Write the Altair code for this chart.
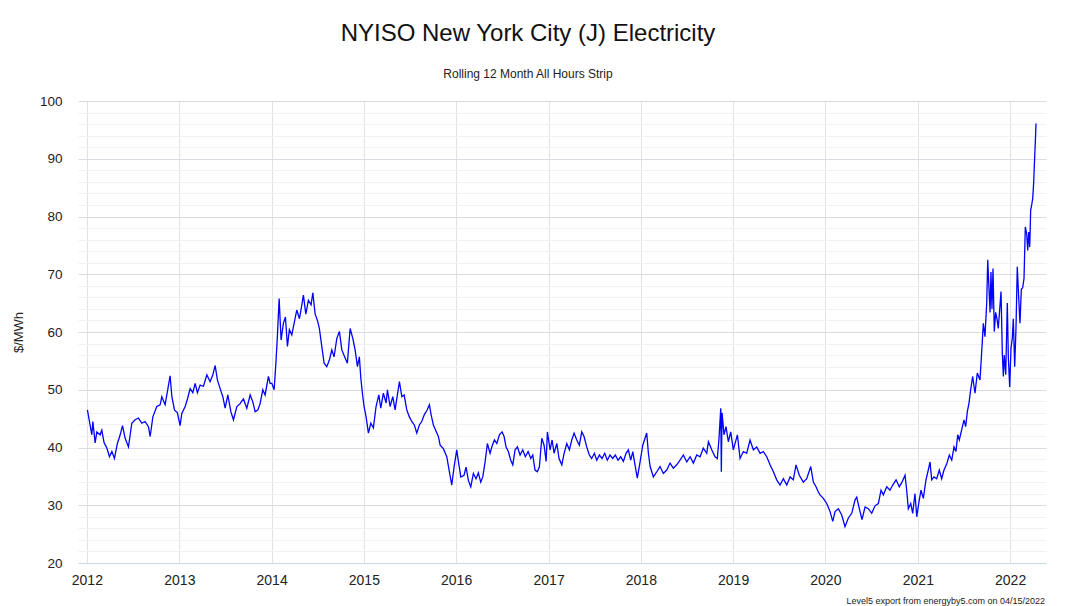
import altair as alt
import pandas as pd

title_text = "NYISO New York City (J) Electricity"
subtitle_text = "Rolling 12 Month All Hours Strip"
y_title = "$/MWh"
footer_text = "Level5 export from energyby5.com on 04/15/2022"
year_ticks = list(range(2012, 2023))
y_major = [20, 30, 40, 50, 60, 70, 80, 90, 100]

year_frac = [
    2012.006, 2012.054, 2012.065, 2012.090, 2012.108, 2012.144, 2012.162, 2012.187, 2012.217, 2012.245,
    2012.271, 2012.299, 2012.331, 2012.361, 2012.386, 2012.415, 2012.451, 2012.487, 2012.523, 2012.559,
    2012.596, 2012.631, 2012.667, 2012.686, 2012.715, 2012.758, 2012.794, 2012.812, 2012.848, 2012.873,
    2012.902, 2012.921, 2012.949, 2012.981,
    2013.010, 2013.029, 2013.065, 2013.090, 2013.119, 2013.148, 2013.173, 2013.198, 2013.227, 2013.263,
    2013.300, 2013.335, 2013.365, 2013.390, 2013.414, 2013.444, 2013.473, 2013.498, 2013.527, 2013.560,
    2013.588, 2013.625, 2013.660, 2013.696, 2013.733, 2013.769, 2013.798, 2013.823, 2013.852, 2013.877,
    2013.906, 2013.931, 2013.967, 2013.985,
    2014.004, 2014.029, 2014.050, 2014.064, 2014.083, 2014.104, 2014.129, 2014.151, 2014.173, 2014.194,
    2014.220, 2014.245, 2014.274, 2014.303, 2014.329, 2014.346, 2014.372, 2014.400, 2014.429, 2014.448,
    2014.473, 2014.498, 2014.519, 2014.545, 2014.570, 2014.599, 2014.628, 2014.654, 2014.678, 2014.708,
    2014.736, 2014.762, 2014.798, 2014.822, 2014.852, 2014.881, 2014.906, 2014.931, 2014.952, 2014.968,
    2014.985,
    2015.003, 2015.025, 2015.050, 2015.076, 2015.104, 2015.133, 2015.163, 2015.184, 2015.212, 2015.242,
    2015.256, 2015.285, 2015.314, 2015.339, 2015.364, 2015.386, 2015.412, 2015.437, 2015.466, 2015.494,
    2015.520, 2015.548, 2015.574, 2015.602, 2015.628, 2015.656, 2015.686, 2015.711, 2015.729, 2015.754,
    2015.783, 2015.808, 2015.827, 2015.862, 2015.899, 2015.927, 2015.953, 2015.978,
    2016.007, 2016.025, 2016.051, 2016.086, 2016.108, 2016.133, 2016.159, 2016.187, 2016.216, 2016.241,
    2016.267, 2016.289, 2016.314, 2016.339, 2016.368, 2016.393, 2016.415, 2016.441, 2016.469, 2016.498,
    2016.520, 2016.541, 2016.566, 2016.592, 2016.614, 2016.639, 2016.664, 2016.693, 2016.722, 2016.750,
    2016.780, 2016.809, 2016.830, 2016.855, 2016.880, 2016.902, 2016.928, 2016.953, 2016.975, 2016.989,
    2017.018, 2017.040, 2017.061, 2017.091, 2017.115, 2017.145, 2017.170, 2017.199, 2017.227, 2017.253,
    2017.278, 2017.307, 2017.335, 2017.361, 2017.386, 2017.415, 2017.443, 2017.469, 2017.498, 2017.524,
    2017.552, 2017.581, 2017.610, 2017.638, 2017.667, 2017.697, 2017.725, 2017.754, 2017.783, 2017.812,
    2017.841, 2017.866, 2017.892, 2017.914, 2017.938, 2017.963, 2017.993,
    2018.022, 2018.065, 2018.083, 2018.102, 2018.137, 2018.174, 2018.209, 2018.245, 2018.282, 2018.318,
    2018.353, 2018.390, 2018.426, 2018.462, 2018.499, 2018.535, 2018.570, 2018.607, 2018.643, 2018.678,
    2018.715, 2018.733, 2018.769, 2018.805, 2018.830, 2018.848, 2018.867, 2018.873, 2018.881, 2018.902,
    2018.924, 2018.949, 2018.975,
    2019.003, 2019.047, 2019.076, 2019.112, 2019.148, 2019.184, 2019.220, 2019.257, 2019.293, 2019.328,
    2019.365, 2019.401, 2019.437, 2019.473, 2019.509, 2019.545, 2019.582, 2019.618, 2019.653, 2019.682,
    2019.718, 2019.761, 2019.798, 2019.842, 2019.870, 2019.899, 2019.924, 2019.942, 2019.978,
    2020.015, 2020.051, 2020.080, 2020.105, 2020.141, 2020.177, 2020.213, 2020.249, 2020.286, 2020.321,
    2020.340, 2020.368, 2020.397, 2020.430, 2020.465, 2020.502, 2020.538, 2020.574, 2020.603, 2020.628,
    2020.665, 2020.700, 2020.730, 2020.766, 2020.801, 2020.830, 2020.863, 2020.881, 2020.899, 2020.925,
    2020.946, 2020.971, 2020.990,
    2021.011, 2021.036, 2021.061, 2021.090, 2021.115, 2021.134, 2021.152, 2021.177, 2021.206, 2021.234,
    2021.260, 2021.285, 2021.315, 2021.343, 2021.369, 2021.394, 2021.415, 2021.434, 2021.451, 2021.477,
    2021.502, 2021.520, 2021.538, 2021.556, 2021.574, 2021.596, 2021.621, 2021.646, 2021.675, 2021.697,
    2021.711, 2021.729, 2021.748, 2021.759, 2021.773, 2021.784, 2021.794, 2021.805, 2021.816, 2021.830,
    2021.845, 2021.859, 2021.873, 2021.889, 2021.903, 2021.917, 2021.928, 2021.938, 2021.954, 2021.971,
    2021.982, 2021.997,
    2022.011, 2022.025, 2022.036, 2022.051, 2022.065, 2022.079, 2022.094, 2022.108, 2022.123, 2022.138,
    2022.152, 2022.166, 2022.181, 2022.192, 2022.203, 2022.214, 2022.224, 2022.235, 2022.246, 2022.257,
    2022.263, 2022.274, 2022.282,
]

price = [
    46.5, 42.2, 44.5, 40.8, 42.7, 42.2, 43.0, 40.8, 39.9, 38.4,
    39.3, 38.1, 40.7, 42.2, 43.8, 41.6, 40.1, 44.2, 44.8, 45.1,
    44.2, 44.5, 43.6, 41.9, 45.3, 47.1, 47.4, 48.8, 47.4, 49.7,
    52.4, 48.8, 46.5, 46.0,
    43.8, 45.9, 47.1, 48.4, 50.2, 49.5, 51.1, 49.5, 50.8, 50.6,
    52.6, 51.4, 52.6, 54.2, 51.7, 50.2, 48.8, 46.8, 49.1, 46.2,
    44.8, 47.1, 47.6, 48.4, 46.8, 49.1, 47.9, 46.2, 46.5, 47.6,
    50.0, 49.1, 52.3, 51.1,
    51.1, 50.0, 55.2, 59.2, 65.8, 58.6, 61.5, 62.6, 57.5, 60.4,
    59.5, 61.5, 63.8, 62.3, 64.7, 66.4, 63.1, 65.5, 64.7, 66.8,
    63.1, 62.0, 60.6, 57.5, 54.6, 54.0, 55.2, 56.9, 55.7, 58.9,
    60.1, 56.9, 55.5, 54.6, 60.6, 58.9, 56.9, 54.0, 55.7, 52.0,
    49.4,
    47.1, 45.3, 42.5, 44.2, 43.4, 47.1, 49.1, 46.8, 49.4, 47.7,
    50.0, 47.1, 48.8, 46.5, 49.1, 51.4, 48.8, 49.1, 46.5, 45.3,
    44.5, 43.9, 42.5, 43.9, 44.5, 45.7, 46.5, 47.4, 45.7, 43.9,
    42.8, 41.9, 40.4, 39.8, 38.4, 35.8, 33.5, 36.6,
    39.6, 37.6, 34.9, 35.2, 36.6, 34.3, 33.2, 35.5, 34.6, 35.6,
    34.0, 34.9, 37.5, 40.7, 39.0, 40.4, 41.3, 40.7, 42.2, 42.7,
    41.9, 40.1, 39.3, 37.8, 37.0, 39.6, 40.1, 38.7, 39.6, 38.4,
    39.3, 38.1, 38.7, 36.1, 35.8, 36.6, 41.6, 40.4, 37.6, 42.7,
    39.6, 41.3, 39.0, 40.7, 38.1, 37.0, 39.0, 40.7, 39.6, 41.3,
    42.5, 41.3, 40.4, 42.7, 41.9, 40.1, 38.7, 38.1, 39.0, 37.8,
    38.7, 38.1, 39.0, 37.8, 38.7, 38.1, 38.7, 37.8, 38.4, 37.6,
    39.0, 39.6, 37.8, 39.3, 37.0, 34.7, 37.5,
    40.4, 42.5, 39.0, 36.7, 34.9, 35.8, 36.7, 35.5, 36.1, 37.3,
    36.4, 37.0, 37.8, 38.7, 37.5, 38.4, 37.3, 38.7, 38.4, 39.9,
    39.0, 41.0, 39.6, 38.4, 38.1, 41.6, 46.8, 35.8, 46.0, 42.2,
    43.6, 41.0, 42.7,
    39.6, 42.2, 38.1, 39.3, 39.0, 41.3, 39.6, 40.1, 39.0, 39.3,
    38.4, 37.0, 35.8, 34.4, 33.5, 34.6, 33.5, 34.9, 34.4, 37.0,
    35.2, 34.0, 34.6, 36.7, 34.0, 33.2, 32.3, 31.8, 31.2,
    30.3, 28.9, 27.2, 28.9, 29.4, 28.3, 26.3, 27.8, 28.6, 30.9,
    31.4, 29.4, 27.5, 29.7, 29.4, 28.6, 29.9, 30.3, 32.6, 31.8,
    33.2, 32.6, 33.5, 34.4, 33.2, 34.0, 35.2, 32.6, 29.4, 30.3,
    28.6, 32.0, 28.0,
    30.3, 32.6, 31.2, 34.4, 36.1, 37.5, 34.4, 34.9, 34.6, 36.1,
    34.6, 36.1, 37.2, 38.7, 37.8, 40.1, 39.3, 42.2, 41.3, 43.1,
    44.8, 43.6, 46.2, 47.7, 50.0, 52.3, 49.4, 52.9, 51.7, 57.5,
    61.5, 59.2, 65.0, 72.5, 67.4, 63.4, 70.4, 64.0, 71.0, 60.1,
    63.4, 62.3, 60.6, 64.0, 67.0, 56.3, 52.3, 56.0, 52.6, 65.0,
    55.7, 50.5,
    57.2, 58.9, 62.3, 54.0, 60.6, 71.3, 66.1, 61.5, 67.4, 67.7,
    69.3, 78.2, 77.0, 74.1, 77.3, 74.7, 81.1, 82.0, 83.1, 86.0,
    88.6, 92.7, 96.1,
]

base = pd.Timestamp("2012-01-01")
dates = [base + pd.Timedelta(days=(t - 2012) * 365.25) for t in year_frac]
df = pd.DataFrame({"date": dates, "price": price})

W, H = 968, 462
FONT = "Liberation Sans"

x_axis = alt.Axis(
    values=[alt.DateTime(year=y, month=1, date=1) for y in year_ticks],
    format="%Y", title=None, grid=True, gridColor="#dfe2e7", gridWidth=1,
    domainColor="#ccd6eb", domainWidth=1, ticks=False, tickSize=0,
    labelPadding=10, labelFontSize=14, labelColor="#222222", labelFont=FONT,
    labelAngle=0, labelOverlap=False,
)

y_axis = alt.Axis(
    values=list(range(20, 101, 2)),
    labelExpr="datum.value % 10 === 0 ? datum.label : ''",
    gridColor={"condition": {"test": "datum.value % 10 === 0", "value": "#d9dce2"}, "value": "#eff1f4"},
    gridWidth=1, domain=False, ticks=False, tickSize=0, labelPadding=16,
    labelFontSize=13.5, labelColor="#222222", labelFont=FONT, labelOverlap=False,
    title=y_title, titleX=-60, titleY=H / 2, titleAngle=-90, titleBaseline="middle",
    titleAlign="center", titleFontWeight="normal", titleFontSize=13, titleColor="#222222",
    titleFont=FONT,
)

line = alt.Chart(df).mark_line(color="#0000ff", strokeWidth=1.3).encode(
    x=alt.X(
        "date:T",
        scale=alt.Scale(domain=[alt.DateTime(year=2011, month=11, date=27),
                                alt.DateTime(year=2022, month=5, date=23)]),
        axis=x_axis,
    ),
    y=alt.Y("price:Q", scale=alt.Scale(domain=[20, 100], nice=False, zero=False), axis=y_axis),
)

foot = alt.Chart(pd.DataFrame({"t": [footer_text]})).mark_text(
    align="right", baseline="middle", fontSize=9, font=FONT, color="#222222"
).encode(text="t:N", x=alt.value(W - 1), y=alt.value(H + 38))

chart = alt.layer(line, foot).properties(
    width=W, height=H,
    title=alt.TitleParams(
        text=title_text, subtitle=subtitle_text, anchor="middle", dx=-34, offset=14,
        font=FONT, fontSize=24, fontWeight="normal", color="#111111",
        subtitleFont=FONT, subtitleFontSize=12, subtitleColor="#222222", subtitlePadding=23,
    ),
    padding={"left": 70, "top": 93, "right": 26, "bottom": 50},
    autosize=alt.AutoSizeParams(type="none"),
).configure_view(stroke=None)

chart.save("out.html", embed_options={"renderer": "svg", "actions": False})
